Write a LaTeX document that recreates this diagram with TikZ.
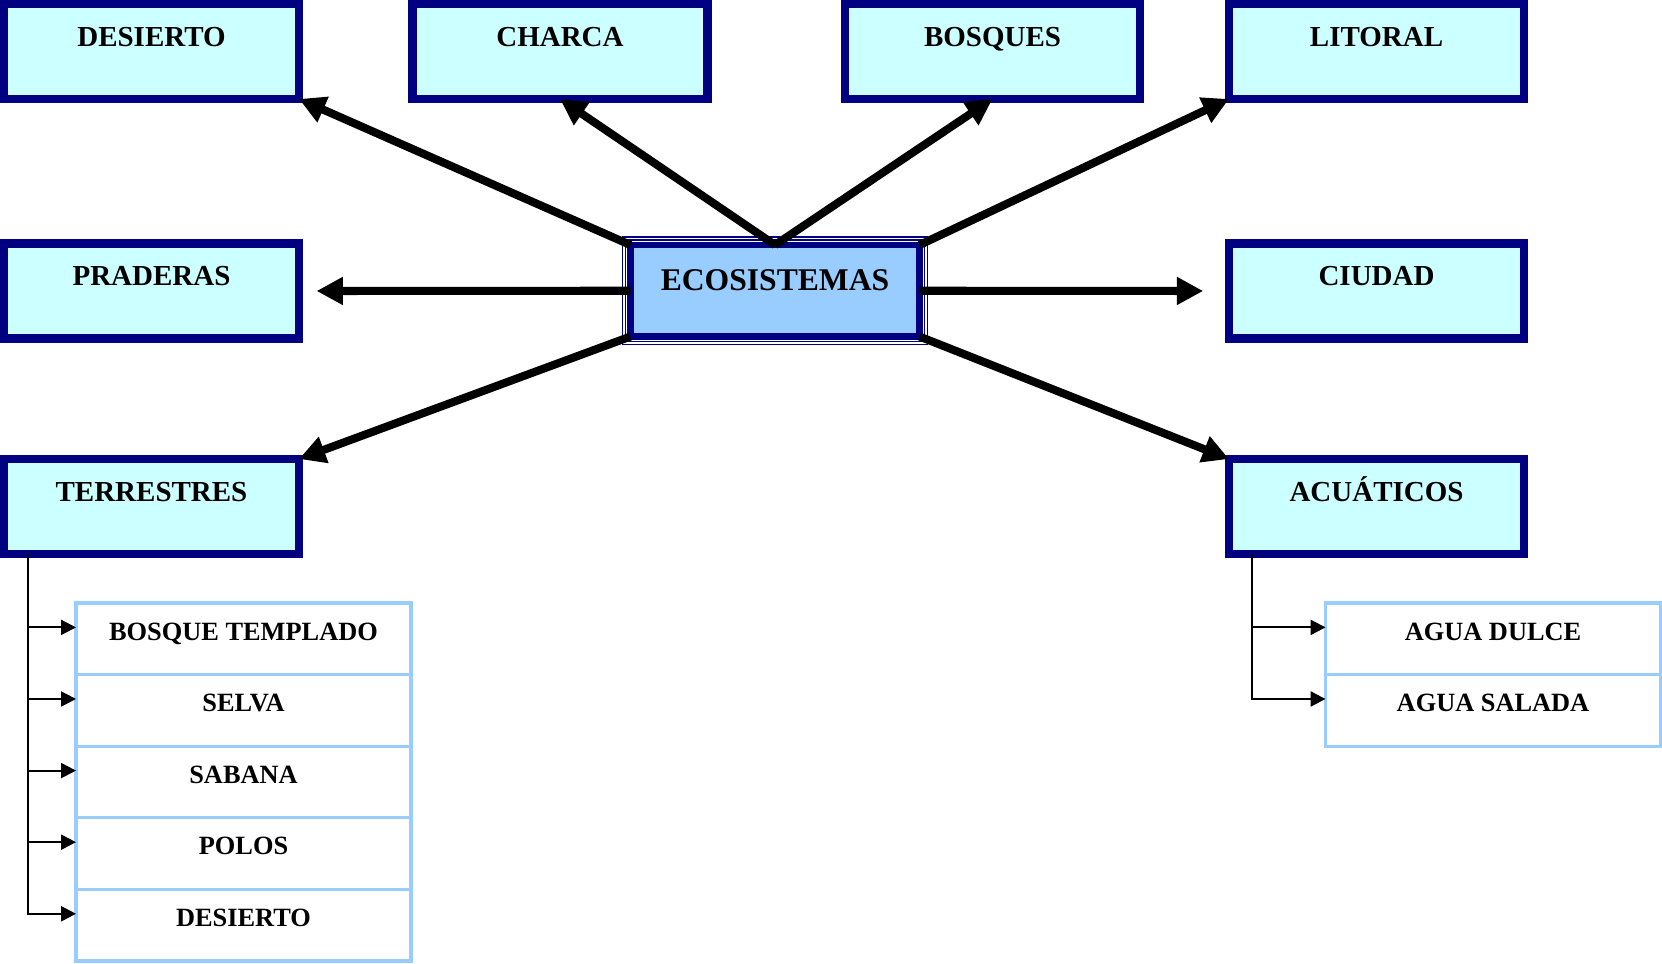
\documentclass[tikz,border=0pt]{standalone}
\usepackage{fontspec}
\setmainfont{Liberation Serif}
\usetikzlibrary{arrows.meta,calc}
\definecolor{colorFrame}{HTML}{000080}
\definecolor{colorBox}{HTML}{CCFFFF}
\definecolor{colorEco}{HTML}{99CCFF}
\definecolor{colorSub}{HTML}{99CCFF}
\tikzset{
   cat/.style={rectangle,draw=colorFrame,fill=colorBox,line width=4.6pt,inner sep=0pt,outer sep=0pt,minimum width=5.9cm,text height=0.84cm,text depth=1.06cm,font=\bfseries\fontsize{16.5}{18}\selectfont},
   eco/.style={rectangle,draw=colorFrame,fill=colorEco,line width=3.6pt,inner sep=0pt,outer sep=0pt,minimum width=5.78cm,text height=0.9cm,text depth=0.93cm,font=\bfseries\fontsize{18}{20}\selectfont},
   ecoframe/.style={draw=colorFrame,line width=0.8pt,double=white,double distance=0.9pt},
   sub/.style={rectangle,draw=colorSub,fill=white,line width=1.8pt,inner sep=0pt,outer sep=0pt,minimum width=6.7cm,text height=0.74cm,text depth=0.692cm,font=\bfseries\fontsize{15}{17}\selectfont},
   big/.style={-{Triangle[length=15pt,width=15pt]},line width=4.6pt},
   br/.style={-{Triangle[length=8.5pt,width=8.5pt]},line width=1.2pt},
}

\begin{document}
\begin{tikzpicture}[x=0.02cm,y=-0.02cm]
      \useasboundingbox (0,0) rectangle (1662,963);
      \node[cat] (desierto) at (151.5,51.5) {DESIERTO};
      \node[cat] (charca) at (560,51.5) {CHARCA};
      \node[cat] (bosques) at (992.5,51.5) {BOSQUES};
      \node[cat] (litoral) at (1376.5,51.5) {LITORAL};
      \node[cat] (praderas) at (151.5,291) {PRADERAS};
      \node[eco] (eco) at (775,290.75) {ECOSISTEMAS};
      \node[cat] (ciudad) at (1376.5,291) {CIUDAD};
      \node[cat] (terr) at (151.5,506.5) {TERRESTRES};
      \node[cat] (acua) at (1376.5,506.5) {ACUÁTICOS};
      \node[sub] (templado) at (243.5,638.8) {BOSQUE TEMPLADO};
      \node[sub] (selva) at (243.5,710.4) {SELVA};
      \node[sub] (sabana) at (243.5,782) {SABANA};
      \node[sub] (polos) at (243.5,853.6) {POLOS};
      \node[sub] (desiertob) at (243.5,925.2) {DESIERTO};
      \node[sub] (dulce) at (1493,638.8) {AGUA DULCE};
      \node[sub] (salada) at (1493,710.4) {AGUA SALADA};
      \draw[ecoframe] ([shift={(-6.5,-6.5)}]eco.north west) rectangle ([shift={(6.5,6.5)}]eco.south east);
      \draw[big] (eco.north west) -- (desierto.south east);
      \draw[big] (eco.north) -- (charca.south);
      \draw[big] (eco.north) -- (bosques.south);
      \draw[big] (eco.north east) -- (litoral.south west);
      \draw[big,shorten >=10pt] (eco.west) -- (praderas.east);
      \draw[big,shorten >=14.7pt] (eco.east) -- (ciudad.west);
      \draw[big] (eco.south west) -- (terr.north east);
      \draw[big] (eco.south east) -- (acua.north west);
      \draw[br] ([xshift=13.6pt]terr.south west) |- ([yshift=6.5pt]templado.west);
      \draw[br] ([xshift=13.6pt]terr.south west) |- ([yshift=6.5pt]selva.west);
      \draw[br] ([xshift=13.6pt]terr.south west) |- ([yshift=6.5pt]sabana.west);
      \draw[br] ([xshift=13.6pt]terr.south west) |- ([yshift=6.5pt]polos.west);
      \draw[br] ([xshift=13.6pt]terr.south west) |- ([yshift=6.5pt]desiertob.west);
      \draw[br] ([xshift=13pt]acua.south west) |- ([yshift=6.5pt]dulce.west);
      \draw[br] ([xshift=13pt]acua.south west) |- ([yshift=6.5pt]salada.west);
    \end{tikzpicture}
\end{document}
